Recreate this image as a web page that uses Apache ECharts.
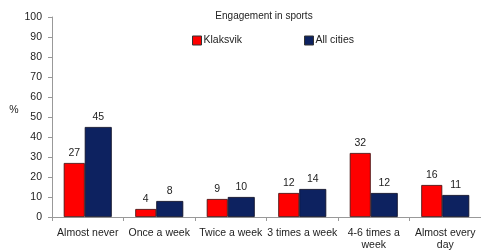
<!DOCTYPE html>
<html><head><meta charset="utf-8">
<script src="https://cdn.jsdelivr.net/npm/echarts@6/dist/echarts.min.js"></script>
<style>html,body{margin:0;padding:0;background:#fff}#c{width:481px;height:251px}</style>
</head><body><div id="c"></div>
<script>
const categories = ['Almost never','Once a week','Twice a week','3 times a week','4-6 times a\nweek','Almost every\nday'];
const klaksvik = [27, 4, 9, 12, 32, 16];
const allCities = [45, 8, 10, 14, 12, 11];
const yTicks = [0,10,20,30,40,50,60,70,80,90,100];
const font = 'Liberation Sans';
const chart = echarts.init(document.getElementById('c'));
chart.setOption({
  animation: false,
  textStyle: {fontFamily: font},
  title: {text: 'Engagement in sports', left: 259, top: 6, textAlign: 'center',
    textStyle: {fontSize: 10, fontWeight: 'normal', color: '#222', fontFamily: font}},
  legend: {
    data: [{name:'Klaksvik', itemStyle:{borderColor:'#333',borderWidth:1}}, {name:'All cities', itemStyle:{borderColor:'#333',borderWidth:1}}],
    left: 187, top: 30, itemWidth: 9, itemHeight: 9, itemGap: 62,
    icon: 'rect', textStyle: {fontSize: 10.5, color: '#222', padding: [0,0,0,-3]}
  },
  grid: {left: 52, right: 0, top: 17, bottom: 34, containLabel: false, outerBoundsMode: 'none'},
  xAxis: {type: 'category', data: categories,
    axisLine: {lineStyle: {color: '#999'}}, axisTick: {show: true, lineStyle:{color:'#999'}, length: 4},
    axisLabel: {fontSize: 10.5, color: '#222', interval: 0, margin: 10, lineHeight: 12}},
  yAxis: {type: 'value', min: 0, max: 100, interval: 10, name: '%\n', nameLocation: 'middle', nameGap: 33, nameRotate: 0,
    nameTextStyle: {fontSize: 10.5, color: '#222', lineHeight: 13},
    axisLine: {show: true, lineStyle: {color: '#999'}}, axisTick: {show: true, lineStyle:{color:'#999'}, length: 4},
    splitLine: {show: false},
    axisLabel: {fontSize: 10.5, color: '#222', margin: 10, formatter: v => yTicks.includes(v) ? String(v) : ''}},
  series: [
    {name: 'Klaksvik', type: 'bar', data: klaksvik, barWidth: 21, barGap: '0%',
     itemStyle: {color: '#ff0000', borderColor: '#3a0a0a', borderWidth: 0.8},
     label: {show: true, position: 'top', fontSize: 10.5, color: '#222', distance: 4}},
    {name: 'All cities', type: 'bar', data: allCities, barWidth: 27, barGap: '0%',
     itemStyle: {color: '#0d2260', borderColor: '#0a0a20', borderWidth: 0.8},
     label: {show: true, position: 'top', fontSize: 10.5, color: '#222', distance: 4}}
  ]
});
</script></body></html>
